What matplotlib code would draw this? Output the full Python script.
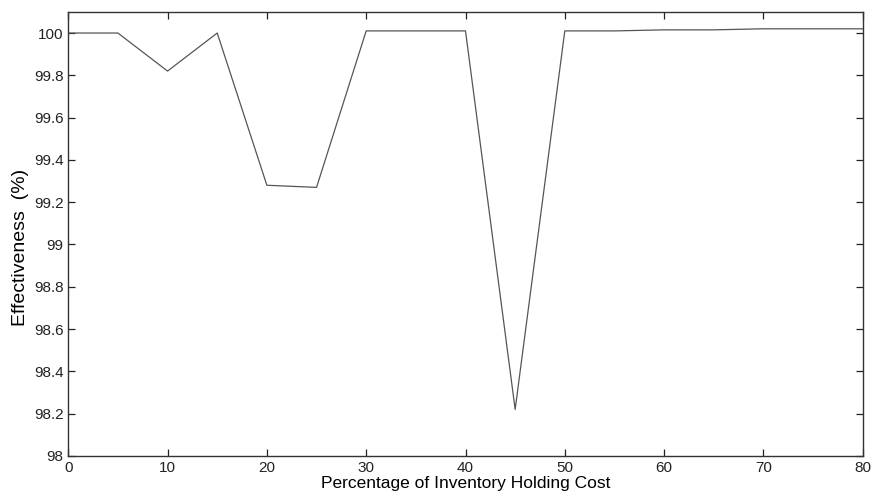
import matplotlib
matplotlib.use('Agg')
import matplotlib.pyplot as plt

# holding cost (%) vs effectiveness (%)
holding_cost = [0, 5, 10, 15, 20, 25, 30, 35, 40, 45, 50, 55, 60, 65, 70, 75, 80]
effectiveness = [100.0, 100.0, 99.82, 100.0, 99.28, 99.27, 100.01, 100.01, 100.01,
                 98.22, 100.01, 100.01, 100.015, 100.015, 100.02, 100.02, 100.02]
x_ticks = [0, 10, 20, 30, 40, 50, 60, 70, 80]
y_ticks = [98, 98.2, 98.4, 98.6, 98.8, 99, 99.2, 99.4, 99.6, 99.8, 100]

plt.rcParams['font.family'] = ['Liberation Sans', 'DejaVu Sans']

fig = plt.figure(figsize=(8.75, 4.95), dpi=100)
ax = fig.add_axes([0.078, 0.079, 0.908, 0.897])
ax.plot(holding_cost, effectiveness, color='#555555', lw=0.9)

ax.set_xlim(0, 80)
ax.set_ylim(98, 100.1)
ax.set_xticks(x_ticks)
ax.set_yticks(y_ticks)
ax.set_yticklabels([f'{v:g}' for v in y_ticks])
ax.tick_params(direction='in', length=5, labelsize=11, top=True, right=True,
               colors='#222222', width=0.9)
for s in ax.spines.values():
    s.set_color('#333333')
    s.set_linewidth(1.0)

ax.set_xlabel('Percentage of Inventory Holding Cost', fontsize=12.5, labelpad=1)
ax.set_ylabel('Effectiveness  (%)', fontsize=14)
ax.yaxis.set_label_coords(-0.05, 0.47)

fig.savefig('out.png', dpi=100)
